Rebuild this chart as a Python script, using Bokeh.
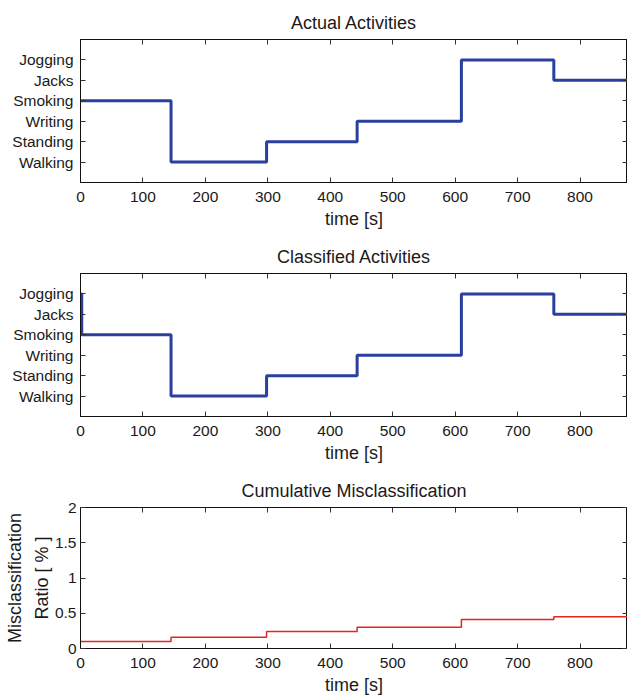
from bokeh.plotting import figure
from bokeh.layouts import column
from bokeh.models import Range1d, LinearAxis, FixedTicker
from bokeh.embed import file_html
from bokeh.resources import INLINE

# ---- data ----
activities = ["Walking", "Standing", "Writing", "Smoking", "Jacks", "Jogging"]

actual_t = [0, 145, 298, 443, 610, 758, 900]
actual_act = ["Smoking", "Walking", "Standing", "Writing", "Jogging", "Jacks"]

classified_t = [0, 2, 145, 298, 443, 610, 758, 900]
classified_act = ["Jogging", "Smoking", "Walking", "Standing", "Writing", "Jogging", "Jacks"]

misclass_t = [0, 145, 298, 443, 610, 758, 900]
misclass_pct = [0.10, 0.16, 0.24, 0.30, 0.41, 0.45]

x_ticks = [0, 100, 200, 300, 400, 500, 600, 700, 800]
mis_ticks = [0, 0.5, 1, 1.5, 2]
mis_tick_labels = {0: "0", 0.5: "0.5", 1: "1", 1.5: "1.5", 2: "2"}

FONT = "Liberation Sans"
TXT = "#1a1a1a"
BLUE = "#2b3f9e"
RED = "#e3261f"
X_END = 876


def style(p, title, yticks, overrides, top, bottom):
    p.title.text = title
    p.title.align = "center"
    p.title.text_font = FONT
    p.title.text_font_size = "18px"
    p.title.text_font_style = "normal"
    p.title.text_color = TXT
    p.title.offset = 0
    p.title.standoff = 14
    p.min_border_top = top
    p.min_border_bottom = bottom
    p.min_border_left = 80
    p.min_border_right = 0
    p.outline_line_color = "#111111"
    p.outline_line_width = 1
    p.xgrid.visible = False
    p.ygrid.visible = False
    p.x_range = Range1d(0, X_END)
    for ax in p.xaxis:
        ax.ticker = FixedTicker(ticks=x_ticks)
        ax.axis_label = "time [s]"
        ax.axis_label_text_font = FONT
        ax.axis_label_text_font_size = "18px"
        ax.axis_label_text_font_style = "normal"
        ax.axis_label_text_color = TXT
        ax.axis_label_standoff = 4
        ax.major_label_standoff = 9
    for ax in p.yaxis:
        ax.ticker = FixedTicker(ticks=yticks)
        ax.major_label_overrides = overrides
        ax.major_label_standoff = 7
    for ax in list(p.xaxis) + list(p.yaxis):
        ax.major_tick_in = 5
        ax.major_tick_out = 0
        ax.minor_tick_line_color = None
        ax.axis_line_color = "#111111"
        ax.major_tick_line_color = "#333333"
        ax.major_label_text_font = FONT
        ax.major_label_text_font_size = "15.5px"
        ax.major_label_text_color = TXT
    # mirrored ticks on top and right
    top_ax = LinearAxis(ticker=FixedTicker(ticks=x_ticks), major_tick_in=5, major_tick_out=0,
                        minor_tick_line_color=None, major_label_text_font_size="0px",
                        major_label_standoff=0, axis_line_color="#111111",
                        major_tick_line_color="#333333")
    right_ax = LinearAxis(ticker=FixedTicker(ticks=yticks), major_tick_in=5, major_tick_out=0,
                          minor_tick_line_color=None, major_label_text_font_size="0px",
                          major_label_standoff=0, axis_line_color=None,
                          major_tick_line_color="#333333")
    p.add_layout(top_ax, "above")
    p.add_layout(right_ax, "right")


act_ticks = [1, 2, 3, 4, 5, 6]
act_over = {i + 1: a for i, a in enumerate(activities)}


def levels(acts):
    lv = [activities.index(a) + 1 for a in acts]
    return lv + [lv[-1]]


p1 = figure(width=627, height=234, output_backend="svg", toolbar_location=None,
            y_range=Range1d(0, 7))
p1.step(actual_t, levels(actual_act), mode="after", line_color=BLUE, line_width=3)
style(p1, "Actual Activities", act_ticks, act_over, 39, 52)

p2 = figure(width=627, height=234, output_backend="svg", toolbar_location=None,
            y_range=Range1d(0, 7))
p2.step(classified_t, levels(classified_act), mode="after", line_color=BLUE, line_width=3)
style(p2, "Classified Activities", act_ticks, act_over, 39, 52)

p3 = figure(width=627, height=229, output_backend="svg", toolbar_location=None,
            y_range=Range1d(0, 2))
p3.step(misclass_t, misclass_pct + [misclass_pct[-1]], mode="after", line_color=RED, line_width=1.5)
style(p3, "Cumulative Misclassification", mis_ticks, mis_tick_labels, 39, 47)
p3.yaxis[0].major_label_standoff = 4
p3.yaxis[0].axis_label = "Misclassification\nRatio [ % ]"
p3.yaxis[0].axis_label_text_font = FONT
p3.yaxis[0].axis_label_text_font_size = "18px"
p3.yaxis[0].axis_label_text_font_style = "normal"
p3.yaxis[0].axis_label_text_color = TXT
p3.yaxis[0].axis_label_text_line_height = 1.35
p3.yaxis[0].axis_label_standoff = 0

layout = column(p1, p2, p3, spacing=0)
open("out.html", "w").write(file_html(layout, INLINE))
